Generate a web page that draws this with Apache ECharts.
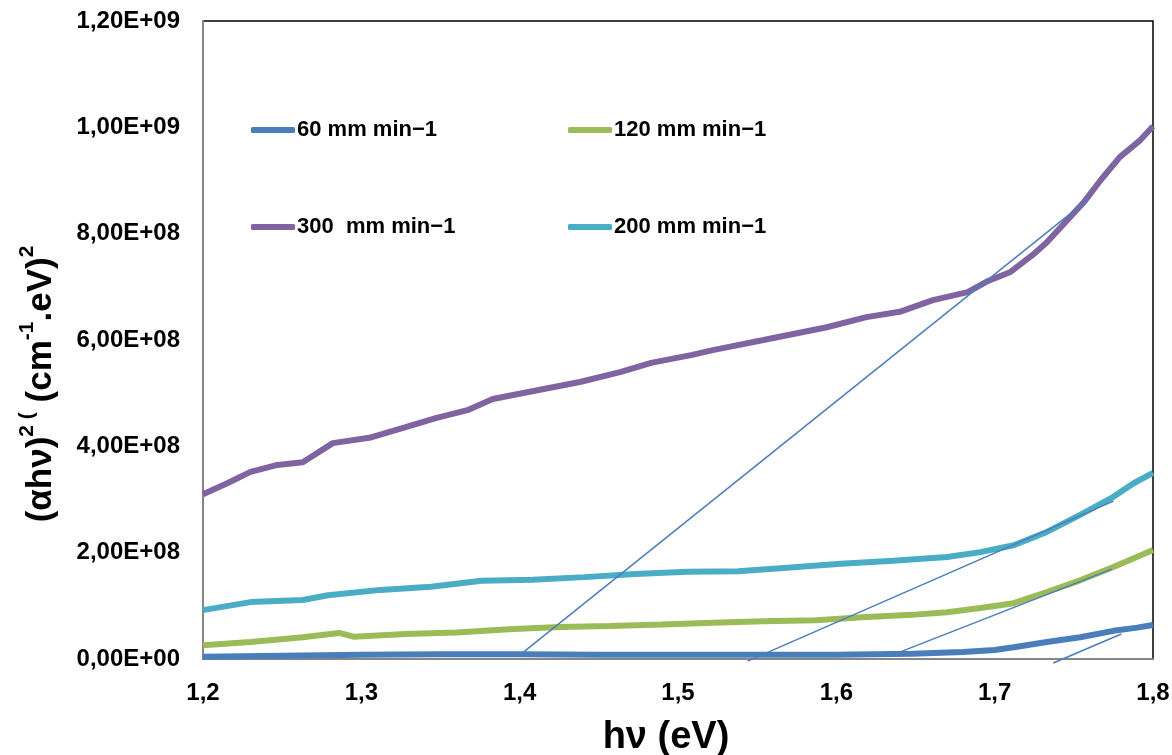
<!DOCTYPE html>
<html>
<head>
<meta charset="utf-8">
<script src="https://cdn.jsdelivr.net/npm/echarts@6/dist/echarts.min.js"></script>
<style>html,body{margin:0;padding:0;background:#fff}#c{width:1172px;height:755px}</style>
</head>
<body>
<div id="c"></div>
<script>
// values in units of 1e8 (cm^-1.eV)^2, x in eV
var s60 = [[1.200,0.04],[1.250,0.06],[1.300,0.08],[1.350,0.09],[1.400,0.09],[1.450,0.08],[1.500,0.08],[1.550,0.08],[1.600,0.08],[1.648,0.10],[1.680,0.13],[1.700,0.17],[1.712,0.22],[1.733,0.32],[1.754,0.41],[1.775,0.53],[1.790,0.59],[1.800,0.64]];
var s120 = [[1.200,0.26],[1.230,0.32],[1.263,0.41],[1.286,0.49],[1.295,0.42],[1.328,0.47],[1.360,0.50],[1.393,0.56],[1.425,0.60],[1.457,0.62],[1.490,0.65],[1.522,0.68],[1.554,0.71],[1.587,0.73],[1.619,0.79],[1.648,0.83],[1.670,0.88],[1.691,0.96],[1.712,1.05],[1.733,1.26],[1.754,1.48],[1.775,1.73],[1.800,2.05]];
var s300 = [[1.200,3.10],[1.215,3.30],[1.230,3.52],[1.247,3.65],[1.263,3.70],[1.282,4.06],[1.305,4.16],[1.328,4.36],[1.347,4.53],[1.367,4.68],[1.383,4.89],[1.412,5.06],[1.438,5.21],[1.464,5.40],[1.483,5.57],[1.509,5.72],[1.522,5.81],[1.554,6.00],[1.594,6.24],[1.619,6.43],[1.640,6.53],[1.661,6.75],[1.683,6.90],[1.695,7.10],[1.710,7.28],[1.724,7.60],[1.733,7.84],[1.746,8.26],[1.756,8.58],[1.767,9.01],[1.779,9.44],[1.792,9.76],[1.800,10.02]];
var s200 = [[1.200,0.92],[1.230,1.07],[1.263,1.11],[1.279,1.20],[1.312,1.30],[1.344,1.36],[1.376,1.47],[1.408,1.49],[1.441,1.54],[1.473,1.60],[1.506,1.64],[1.538,1.65],[1.571,1.72],[1.603,1.79],[1.636,1.85],[1.670,1.92],[1.691,2.01],[1.712,2.14],[1.733,2.39],[1.754,2.71],[1.775,3.05],[1.788,3.31],[1.800,3.50]];
var t300 = [[1.402,0.12],[1.760,8.67]];
var t200 = [[1.544,-0.04],[1.775,2.97]];
var t120 = [[1.640,0.13],[1.774,1.69]];
var t60 = [[1.737,-0.075],[1.780,0.47]];
var names = ['60 mm min\u22121','120 mm min\u22121','300  mm min\u22121','200 mm min\u22121'];
var colors = ['#4a7ebb','#9bbb59','#8064a2','#4bacc6'];
var yTicks = ['0,00E+00','2,00E+08','4,00E+08','6,00E+08','8,00E+08','1,00E+09','1,20E+09'];

function scale(a){return a.map(function(p){return [p[0], p[1]*1e8];});}
var F = 'Liberation Sans, Arial, sans-serif';
var chart = echarts.init(document.getElementById('c'));
function mkLegend(name, color, left, top){
  return {data:[{name:name, icon:'roundRect', itemStyle:{color:color, borderWidth:0}}], left:left, top:top,
    itemWidth:44, itemHeight:6, itemGap:0,
    textStyle:{fontFamily:F, fontWeight:'bold', fontSize:22, color:'#000', padding:[0,0,0,-3]}};
}
var main = [s60,s120,s300,s200];
var series = main.map(function(d,i){
  return {name:names[i], type:'line', data:scale(d), symbol:'none', smooth:false,
    lineStyle:{color:colors[i], width:6}, itemStyle:{color:colors[i]}, z:2};
});
[t300,t200,t120,t60].forEach(function(d){
  series.push({type:'line', data:scale(d), symbol:'none', clip:false, silent:true,
    lineStyle:{color:'#4a7ebb', width:1.5}, itemStyle:{color:'#4a7ebb'}, z:5});
});
chart.setOption({
  animation:false,
  backgroundColor:'#fff',
  grid:{left:203, right:19, top:21, bottom:96, outerBoundsMode:'none', containLabel:false,
    show:true, borderColor:'#000', borderWidth:1.5, backgroundColor:'transparent'},
  legend:[mkLegend(names[0],colors[0],246,114), mkLegend(names[1],colors[1],563,114), mkLegend(names[2],colors[2],246,211), mkLegend(names[3],colors[3],563,211)],
  xAxis:{type:'value', min:1.2, max:1.8, interval:0.1,
    axisLine:{show:true, lineStyle:{color:'#868686', width:2}}, axisTick:{show:false}, splitLine:{show:false},
    axisLabel:{margin:22, fontFamily:F, fontWeight:'bold', fontSize:24, color:'#000',
      formatter:function(v){return v.toFixed(1).replace('.',',');}},
    name:'h\u03bd (eV)', nameLocation:'middle', nameGap:60,
    nameTextStyle:{fontFamily:F, fontWeight:'bold', fontSize:38, color:'#000', padding:[0,24,0,0]}},
  yAxis:{type:'value', min:0, max:1.2e9, interval:2e8,
    axisLine:{show:true, lineStyle:{color:'#868686', width:2}}, axisTick:{show:false}, splitLine:{show:false},
    axisLabel:{margin:23, fontFamily:F, fontWeight:'bold', fontSize:24, color:'#000',
      formatter:function(v){return yTicks[Math.round(v/2e8)];}},
    name:'{m|(\u03b1h\u03bd)}{s|2 (}{m| (cm}{s|-1}{m|.eV)}{s|2}', nameLocation:'middle', nameGap:144,
    nameTextStyle:{fontFamily:F, fontWeight:'bold', fontSize:35, color:'#000', padding:[0,88,0,0],
      rich:{m:{fontFamily:F, fontWeight:'bold', fontSize:35, color:'#000', lineHeight:42, verticalAlign:'bottom'},
            s:{fontFamily:F, fontWeight:'bold', fontSize:21, color:'#000', lineHeight:42, verticalAlign:'top'}}}},
  series:series
});
</script>
</body>
</html>
